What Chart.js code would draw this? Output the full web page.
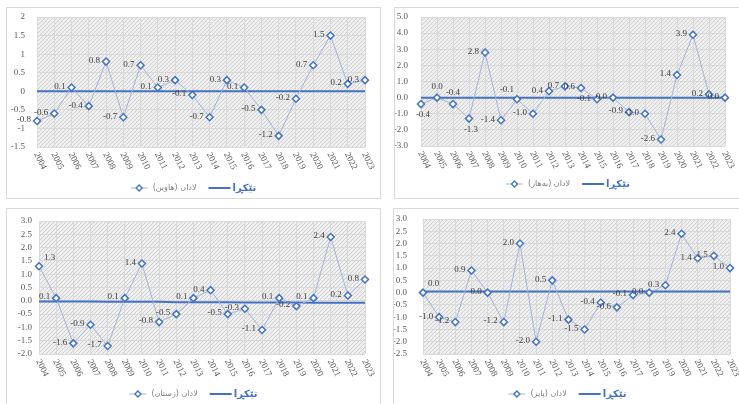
<!DOCTYPE html>
<html><head><meta charset="utf-8">
<script src="https://cdn.jsdelivr.net/npm/chart.js@4.4.0/dist/chart.umd.min.js"></script>
<style>
html,body{margin:0;padding:0;background:#fff;width:739px;height:404px;overflow:hidden;position:relative}
.panel{position:absolute;border:1px solid #d9d9d9;box-sizing:border-box;background:#fff}
canvas{display:block}
</style></head><body>
<div class="panel" style="left:6px;top:7px;width:375px;height:192px"><canvas id="c1"></canvas></div>
<div class="panel" style="left:394px;top:7px;width:348px;height:192px"><canvas id="c2"></canvas></div>
<div class="panel" style="left:6px;top:208px;width:375px;height:197px"><canvas id="c3"></canvas></div>
<div class="panel" style="left:393px;top:208px;width:349px;height:197px"><canvas id="c4"></canvas></div>
<script>
const years = ['2004','2005','2006','2007','2008','2009','2010','2011','2012','2013','2014','2015','2016','2017','2018','2019','2020','2021','2022','2023'];
const summer = [-0.8,-0.6,0.1,-0.4,0.8,-0.7,0.7,0.1,0.3,-0.1,-0.7,0.3,0.1,-0.5,-1.2,-0.2,0.7,1.5,0.2,0.3];
const spring = [-0.4,0.0,-0.4,-1.3,2.8,-1.4,-0.1,-1.0,0.4,0.7,0.6,-0.1,0.0,-0.9,-1.0,-2.6,1.4,3.9,0.2,0.0];
const winter = [1.3,0.1,-1.6,-0.9,-1.7,0.1,1.4,-0.8,-0.5,0.1,0.4,-0.5,-0.3,-1.1,0.1,-0.2,0.1,2.4,0.2,0.8];
const autumn = [0.0,-1.0,-1.2,0.9,0.0,-1.2,2.0,-2.0,0.5,-1.1,-1.5,-0.4,-0.6,-0.1,0.0,0.3,2.4,1.4,1.5,1.0];
const avgSummer = [0,0,0,0,0,0,0,0,0,0,0,0,0,0,0,0,0,0,0,0];
const avgSpring = [0,0,0,0,0,0,0,0,0,0,0,0,0,0,0,0,0,0,0,0];
const avgWinter = [-0.03,-0.03,-0.03,-0.03,-0.04,-0.04,-0.04,-0.04,-0.05,-0.05,-0.05,-0.05,-0.06,-0.06,-0.06,-0.06,-0.07,-0.07,-0.07,-0.07];
const avgAutumn = [0.05,0.05,0.05,0.05,0.05,0.05,0.05,0.05,0.05,0.05,0.05,0.05,0.05,0.05,0.05,0.05,0.05,0.05,0.05,0.05];
const legendSummer = 'لادان (هاوین)';
const legendSpring = 'لادان (بەهار)';
const legendWinter = 'لادان (زستان)';
const legendAutumn = 'لادان (پایز)';
const legendAvg = 'تێکڕا';

function hatchCanvas(){
  const c=document.createElement('canvas'); c.width=c.height=4;
  const g=c.getContext('2d');
  g.fillStyle='#efefef'; g.fillRect(0,0,4,4);
  g.strokeStyle='#d0d0d0'; g.lineWidth=1;
  g.beginPath(); g.moveTo(0,4); g.lineTo(4,0); g.moveTo(-1,1); g.lineTo(1,-1); g.moveTo(3,5); g.lineTo(5,3); g.stroke();
  return c;
}
const hatch = hatchCanvas();
const SERIF = '"Liberation Serif", "DejaVu Serif", serif';

const deco = {
  id:'deco',
  beforeDraw(chart){
    const a=chart.chartArea, ctx=chart.ctx;
    ctx.save();
    ctx.fillStyle=ctx.createPattern(hatch,'repeat');
    ctx.fillRect(a.left,a.top,a.right-a.left,a.bottom-a.top);
    ctx.restore();
  },
  afterDatasetsDraw(chart){
    const o=chart.options.plugins.deco, ctx=chart.ctx;
    const meta=chart.getDatasetMeta(0);
    const vals=chart.data.datasets[0].data;
    const pos=o.pos||{};
    ctx.save();
    ctx.font='9px '+SERIF; ctx.fillStyle='#404040';
    ctx.textBaseline='middle';
    meta.data.forEach((pt,i)=>{
      const t=vals[i].toFixed(1), p=pos[i]||'l';
      if(p==='l'){ctx.textAlign='right'; ctx.fillText(t, pt.x-6, pt.y-1);}
      else if(p==='a'){ctx.textAlign='center'; ctx.fillText(t, pt.x, pt.y-11);}
      else if(p==='b'){ctx.textAlign='center'; ctx.fillText(t, pt.x+2, pt.y+11);}
      else if(p==='al'){ctx.textAlign='center'; ctx.fillText(t, pt.x-10, pt.y-10);}
      else if(p==='ar'){ctx.textAlign='left'; ctx.fillText(t, pt.x+5, pt.y-9);}
    });
    ctx.restore();
  },
  afterDraw(chart){
    const o=chart.options.plugins.deco, ctx=chart.ctx, a=chart.chartArea;
    const xs=chart.scales.x;
    ctx.save();
    ctx.font='9px '+SERIF; ctx.fillStyle='#595959';
    ctx.textAlign='left'; ctx.textBaseline='middle';
    chart.data.labels.forEach((lab,i)=>{
      const x=xs.getPixelForValue(i);
      ctx.save();
      ctx.translate(x-1, a.bottom+6);
      ctx.rotate(63*Math.PI/180);
      ctx.fillText(lab,0,0);
      ctx.restore();
    });
    const y=o.legendY;
    const f1='8px "DejaVu Sans", sans-serif', f2='bold 10px "DejaVu Sans", sans-serif';
    ctx.font=f1; const w1=ctx.measureText(o.label).width;
    ctx.font=f2; const w2=ctx.measureText(legendAvg).width;
    const s1=17, g=5, gap=12, s2=22;
    const total=s1+g+w1+gap+s2+2+w2;
    let x=chart.width/2-total/2;
    ctx.strokeStyle='#a3b5d8'; ctx.lineWidth=1;
    ctx.beginPath(); ctx.moveTo(x,y); ctx.lineTo(x+s1,y); ctx.stroke();
    ctx.fillStyle='#fff'; ctx.strokeStyle='#4472c4'; ctx.lineWidth=1.3;
    const cx=x+s1/2, r=3;
    ctx.beginPath(); ctx.moveTo(cx,y-r); ctx.lineTo(cx+r,y); ctx.lineTo(cx,y+r); ctx.lineTo(cx-r,y); ctx.closePath(); ctx.fill(); ctx.stroke();
    x+=s1+g;
    ctx.font=f1; ctx.fillStyle='#7f7f7f'; ctx.textAlign='left';
    ctx.fillText(o.label,x,y);
    x+=w1+gap;
    ctx.strokeStyle='#4472c4'; ctx.lineWidth=2;
    ctx.beginPath(); ctx.moveTo(x,y); ctx.lineTo(x+s2,y); ctx.stroke();
    x+=s2+2;
    ctx.font=f2; ctx.fillStyle='#4472c4';
    ctx.fillText(legendAvg,x,y);
    ctx.restore();
  }
};

function makeChart(id, vals, avg, o){
  return new Chart(document.getElementById(id), {
    type:'line',
    data:{labels:years, datasets:[
      {data:vals, borderColor:'#a3b5d8', borderWidth:1, pointStyle:'rectRot', pointRadius:3.5,
       pointBorderColor:'#4472c4', pointBackgroundColor:'#ffffff', pointBorderWidth:1.5, tension:0},
      {data:avg, borderColor:'#4472c4', borderWidth:2, pointRadius:0, tension:0}
    ]},
    options:{
      responsive:true, maintainAspectRatio:false, animation:false, events:[],
      layout:{padding:{left:0, right:o.pr, top:o.pt, bottom:0}},
      plugins:{legend:{display:false}, tooltip:{enabled:false}, deco:{label:o.label, legendY:o.ly, pos:o.pos}},
      scales:{
        x:{ticks:{display:false}, grid:{color:'#d9d9d9', drawTicks:false}, border:{display:false},
           afterFit:s=>{s.height=o.xh;}},
        y:{min:o.min, max:o.max,
           ticks:{stepSize:o.step, autoSkip:false, padding:2, color:'#595959', font:{family:SERIF,size:9},
                  callback:v=>o.dec?Number(v).toFixed(1):String(Math.round(v*10)/10)},
           grid:{color:'#d9d9d9', drawTicks:true, tickLength:o.tp-2, tickColor:'rgba(0,0,0,0)'}, border:{display:false},
           afterFit:s=>{s.width=o.yw;}}
      }
    },
    plugins:[deco]
  });
}

makeChart('c1', summer, avgSummer, {min:-1.5,max:2,step:0.5,dec:false,yw:30,pr:15,pt:9,xh:51,tp:12,label:legendSummer,ly:180});
makeChart('c2', spring, avgSpring, {min:-3,max:5,step:1,dec:true,yw:26,pr:16,pt:9,xh:52,tp:13,label:legendSpring,ly:176,
  pos:{0:'b',1:'a',2:'a',3:'b',6:'al'}});
makeChart('c3', winter, avgWinter, {min:-2,max:3,step:0.5,dec:true,yw:32,pr:15,pt:12,xh:50,tp:7,label:legendWinter,ly:185,
  pos:{0:'ar'}});
makeChart('c4', autumn, avgAutumn, {min:-2.5,max:3,step:0.5,dec:true,yw:29,pr:11,pt:10,xh:50,tp:16,label:legendAutumn,ly:185,
  pos:{0:'ar'}});
</script>
</body></html>
